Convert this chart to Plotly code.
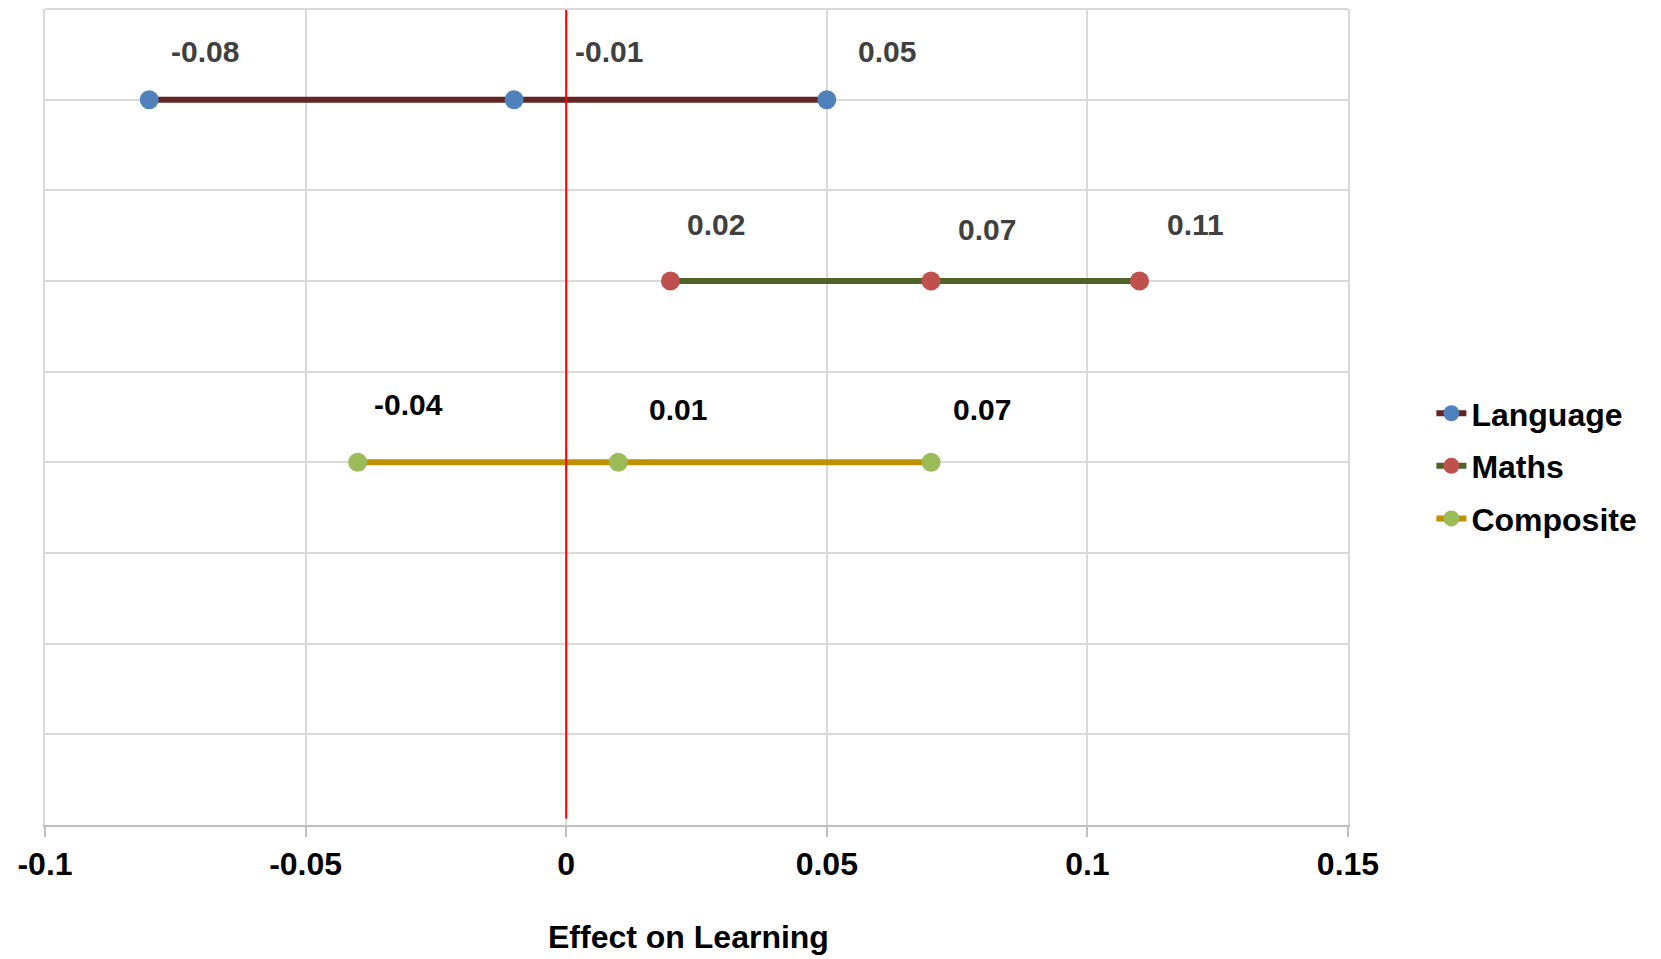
import plotly.graph_objects as go

# ---- data ----
series_names = ["Language", "Maths", "Composite"]
language_vals = [-0.08, -0.01, 0.05]
maths_vals = [0.02, 0.07, 0.11]
composite_vals = [-0.04, 0.01, 0.07]
row_positions = [8, 6, 4]
x_tick_vals = [-0.1, -0.05, 0, 0.05, 0.1, 0.15]
x_tick_text = ["-0.1", "-0.05", "0", "0.05", "0.1", "0.15"]
x_title = "Effect on Learning"

# ---- styles ----
line_colors = ["#632523", "#4F6228", "#BF9000"]
marker_colors = ["#4F81BD", "#C0504D", "#9BBB59"]
label_colors = ["#404040", "#404040", "#000000"]
label_dx = [[56, 95, 60], [46, 56, 56], [51, 60, 51]]
label_dy = [[48, 48, 48], [57, 52, 57], [58, 53, 53]]

FONT = "Liberation Sans, Arial, sans-serif"
all_vals = [language_vals, maths_vals, composite_vals]

fig = go.Figure()
annotations = []
for i, (name, vals) in enumerate(zip(series_names, all_vals)):
    fig.add_trace(go.Scatter(
        x=vals, y=[row_positions[i]] * len(vals), name="<b>%s</b>" % name,
        mode="lines+markers", legendgroup=name,
        line=dict(color=line_colors[i], width=6),
        marker=dict(color=marker_colors[i], size=19),
    ))
    for j, v in enumerate(vals):
        annotations.append(dict(
            x=v, y=row_positions[i], xref="x", yref="y",
            text="<b>%s</b>" % f"{v:.2f}", showarrow=False,
            xshift=label_dx[i][j], yshift=label_dy[i][j],
            font=dict(family=FONT, size=30, color=label_colors[i]),
        ))

# axis title as annotation for precise placement
annotations.append(dict(
    x=0.5, y=0, xref="paper", yref="paper", yanchor="top",
    text="<b>%s</b>" % x_title, showarrow=False,
    xshift=-8, yshift=-92,
    font=dict(family=FONT, size=32, color="black"),
))

fig.update_layout(
    width=1661, height=959,
    margin=dict(l=37, r=321, t=1, b=142),
    paper_bgcolor="white", plot_bgcolor="white",
    font=dict(family=FONT, color="black"),
    showlegend=True,
    legend=dict(x=1.064, y=0.44, xanchor="left", yanchor="middle",
                font=dict(family=FONT, size=32, color="black"),
                tracegroupgap=8, bgcolor="rgba(0,0,0,0)"),
    annotations=annotations,
    xaxis=dict(
        range=[-0.1, 0.15], tickvals=x_tick_vals,
        ticktext=["<b>%s</b>" % t for t in x_tick_text],
        tickfont=dict(family=FONT, size=32, color="black"),
        showgrid=True, gridcolor="#D9D9D9", gridwidth=2,
        zeroline=False,
        showline=True, linecolor="#BFBFBF", linewidth=2,
        ticks="outside", ticklen=10, tickcolor="#BFBFBF", tickwidth=2,
    ),
    yaxis=dict(
        range=[0, 9], dtick=1, showticklabels=False,
        showgrid=True, gridcolor="#D9D9D9", gridwidth=2,
        zeroline=False, showline=True, linecolor="#D9D9D9", linewidth=2,
        mirror=True,
    ),
    shapes=[
        dict(type="line", xref="x", yref="paper", x0=0, x1=0, y0=0.008, y1=1,
             line=dict(color="#FF0000", width=2)),
        dict(type="line", xref="paper", yref="paper", x0=0, x1=1, y0=1, y1=1,
             line=dict(color="#D9D9D9", width=2)),
        dict(type="rect", xref="paper", yref="paper",
             x0=1.124, x1=1.209, y0=-0.185, y1=-0.1654,
             fillcolor="#1F4A8F", line=dict(width=0)),
    ],
)

fig.write_html("out.html")
